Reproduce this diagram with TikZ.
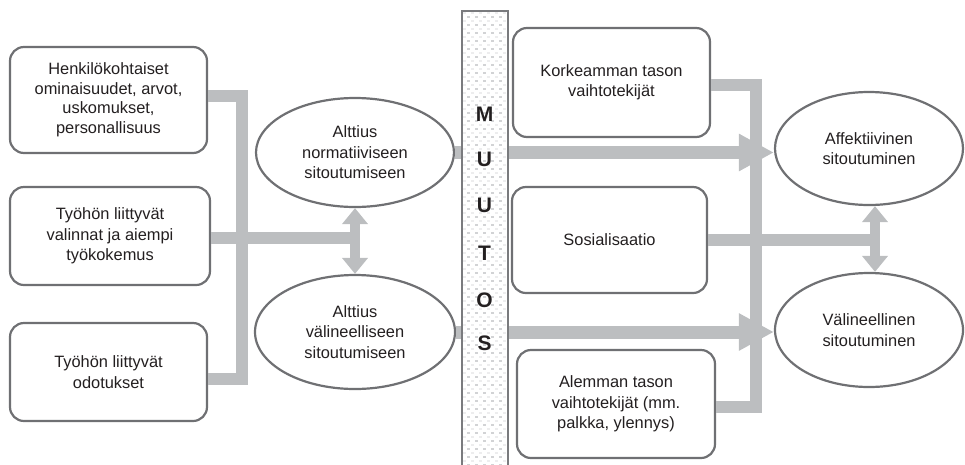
\documentclass[tikz,border=0pt]{standalone}
\usepackage{fontspec}
\setmainfont{Liberation Sans}
\usetikzlibrary{arrows.meta,shapes.geometric}
\definecolor{edgec}{HTML}{6F7073}
\definecolor{connc}{HTML}{BCBEC0}
\definecolor{barc}{HTML}{7A7B7E}
\definecolor{dotc}{HTML}{D2D3D5}
\definecolor{dotl}{HTML}{EDEDEE}
\definecolor{inkc}{HTML}{231F20}
\tikzset{
  txt/.style={font=\fontsize{16.4}{20.5}\selectfont, text=inkc, align=center},
  box/.style={txt, draw=edgec, line width=2.2pt, fill=white, rounded corners=14pt,
    inner sep=0pt},
  oval/.style={txt, ellipse, draw=edgec, line width=2.2pt, fill=white, inner sep=0pt},
  conn/.style={draw=connc, line width=12pt, line join=miter, line cap=butt},
  twoway/.style={draw=connc, line width=10pt,
    {Triangle[width=25pt,length=16pt]}-{Triangle[width=25pt,length=16pt]}},
  flow/.style={draw=connc, line width=13pt, -{Triangle[width=35pt,length=35pt]}},
  letter/.style={font=\fontsize{21}{21}\bfseries, text=inkc, inner sep=0pt},
}
\begin{document}
\begin{tikzpicture}[x=1pt,y=-1pt]
\useasboundingbox (0,0) rectangle (965,464);

% antecedent boxes (left)
\node[box, minimum width=197pt, minimum height=106pt,
      font=\fontsize{16.4}{19.5}\selectfont] (b1) at (108.5,100)
  {Henkilökohtaiset\\ominaisuudet, arvot,\\uskomukset,\\personallisuus};
\node[box, minimum width=200pt, minimum height=98pt] (b2) at (110,236)
  {Työhön liittyvät\\valinnat ja aiempi\\työkokemus};
\node[box, minimum width=197pt, minimum height=98pt] (b3) at (108.5,372)
  {Työhön liittyvät\\odotukset};

% propensity ellipses
\node[oval, minimum width=198pt, minimum height=109pt] (e1) at (355,152.5)
  {Alttius\\normatiiviseen\\sitoutumiseen};
\node[oval, minimum width=200pt, minimum height=114pt] (e2) at (355,332)
  {Alttius\\välineelliseen\\sitoutumiseen};

% factor boxes (right)
\node[box, minimum width=197pt, minimum height=109pt] (k) at (611.5,82.5)
  {Korkeamman tason\\vaihtotekijät};
\node[box, minimum width=195pt, minimum height=106pt] (s) at (609.5,240)
  {Sosialisaatio};
\node[box, minimum width=198pt, minimum height=108pt] (a) at (616,404)
  {Alemman tason\\vaihtotekijät (mm.\\palkka, ylennys)};

% commitment ellipses
\node[oval, minimum width=188pt, minimum height=113pt] (aff) at (869,148.5)
  {Affektiivinen\\sitoutuminen};
\node[oval, minimum width=188pt, minimum height=114pt] (val) at (869,330)
  {Välineellinen\\sitoutuminen};

% junction points of the grey connectors
\coordinate (jt) at (242,96);
\coordinate (jb) at (242,379);
\coordinate (lx) at (360,0);
\coordinate (rt) at (756,85);
\coordinate (rb) at (756,407);
\coordinate (ra) at (875,0);
\coordinate (rx) at (880,0);
\coordinate (b1o) at ([yshift=4pt]b1.east);
\coordinate (b2o) at ([yshift=-2pt]b2.east);
\coordinate (b3o) at ([yshift=-7pt]b3.east);
\coordinate (ko) at ([yshift=-2.5pt]k.east);
\coordinate (ao) at ([yshift=-3pt]a.east);

% left connectors
\draw[conn] (b1o) -- (jt) -- (jb) -- (b3o);
\draw[conn] (b2o) -- (lx |- b2o);
\draw[twoway] (e1.south) -- (e1.south |- e2.north);

% right connectors
\draw[conn] (ko) -- (rt) -- (rb) -- (ao);
\draw[conn] (s.east) -- (rx |- s.east);
\draw[twoway] (ra |- aff.south) -- (ra |- val.north);

% main flows through the change bar
\draw[flow] (e1.east) -- (e1.east -| aff.west);
\draw[flow] (e2.east) -- (e2.east -| val.west);

% change bar with dotted fill
\node[draw=barc, line width=1.5pt, fill=white, minimum width=46pt,
      minimum height=470pt, inner sep=0pt, anchor=north,
      path picture={
        \foreach \i in {0,...,5}
          \foreach \j in {0,...,58}
            \fill[dotl] ([shift={(1+8*\i,1+8*\j)}]path picture bounding box.north west)
              rectangle ++(2.6,2.6);
        \foreach \i in {0,...,5}
          \foreach \j in {0,...,58}
            \fill[dotc] ([shift={(5+8*\i,5+8*\j)}]path picture bounding box.north west)
              rectangle ++(2.6,2.6);
      }] (bar) at (485,10) {};

\node[letter] (l1) at (484.5,114) {M};
\node[letter] (l2) at (484.5,159) {U};
\node[letter] (l3) at (484.5,205) {U};
\node[letter] (l4) at (484.5,253) {T};
\node[letter] (l5) at (484.5,300) {O};
\node[letter] (l6) at (484.5,343) {S};
\end{tikzpicture}
\end{document}
